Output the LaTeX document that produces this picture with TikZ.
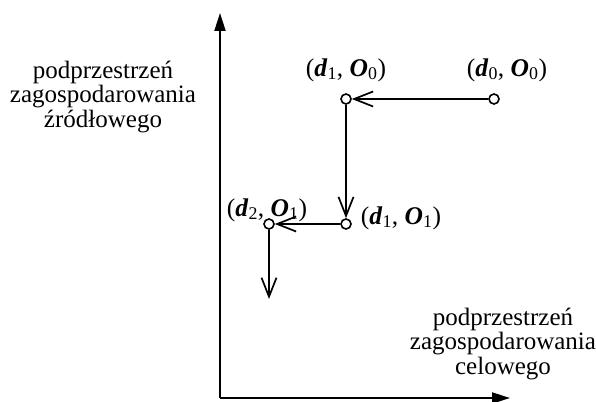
\documentclass[tikz,border=0pt]{standalone}
\usepackage{fontspec}
\setmainfont{Liberation Serif}
\usetikzlibrary{arrows.meta}
\newcommand{\bi}[1]{\textbf{\textit{#1}}}
\newcommand{\lbl}[4]{(\bi{#1}\textsubscript{#2}, \bi{#3}\textsubscript{#4})}
\begin{document}
\begin{tikzpicture}[x=1pt,y=-1pt,
  dot/.style={circle,draw,line width=1.6pt,inner sep=0pt,minimum width=8.5pt,minimum height=10pt,fill=white},
  flow/.style={line width=1.7pt,-{Straight Barb[length=19pt,width=15pt,line width=1.7pt]}},
  axis/.style={line width=2pt,-{Triangle[length=18pt,width=11pt]}},
  txt/.style={align=center,font=\fontsize{25}{24.8}\selectfont,inner sep=0pt},
  lab/.style={font=\fontsize{25.5}{26}\selectfont,inner sep=0pt}]
\useasboundingbox (0,0) rectangle (596,401);
\coordinate (o) at (220,398);
\coordinate (ytop) at (220,13);
\coordinate (xend) at (510,398);
\draw[axis] (o) -- (ytop);
\draw[axis] (o) -- (xend);
\node[dot] (a) at (494,99) {};
\node[dot] (b) at (346,99) {};
\node[dot] (c) at (346,224) {};
\node[dot] (d) at (269,224) {};
\coordinate (e) at (269,299);
\draw[flow] (a) -- (b);
\draw[flow] (b) -- (c);
\draw[flow] (c) -- (d);
\draw[flow] (d) -- (e);
\node[lab] (la) at (507,70) {\lbl{d}{0}{O}{0}};
\node[lab] (lb) at (346,70) {\lbl{d}{1}{O}{0}};
\node[lab] (lc) at (401,218) {\lbl{d}{1}{O}{1}};
\node[lab] (ld) at (267,210) {\lbl{d}{2}{O}{1}};
\node[txt] (ty) at (103,97) {podprzestrzeń\\zagospodarowania\\źródłowego};
\node[txt] (tx) at (503,344) {podprzestrzeń\\zagospodarowania\\celowego};
\end{tikzpicture}
\end{document}
